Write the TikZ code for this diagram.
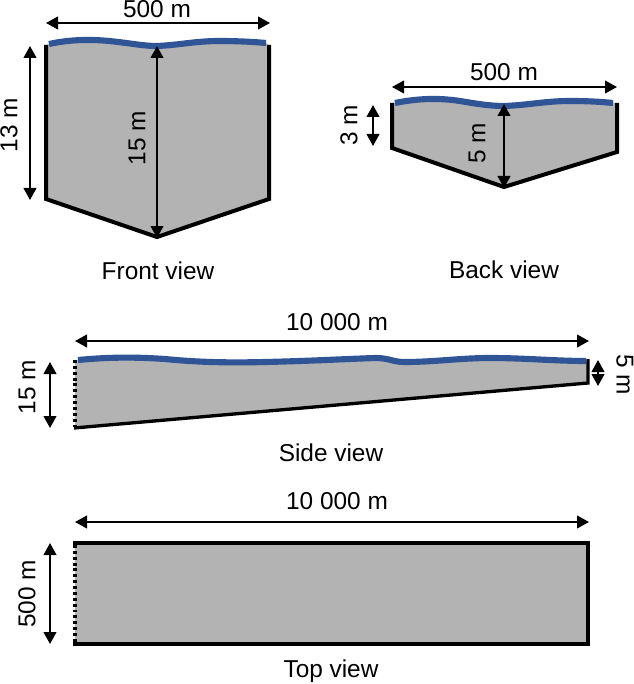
\documentclass[tikz,border=0pt]{standalone}
\usepackage{fontspec}
\setmainfont{Liberation Sans}
\usetikzlibrary{arrows.meta}
\definecolor{wgray}{HTML}{B3B3B3}
\definecolor{wblue}{HTML}{2F5597}
\tikzset{
  bodyfill/.style={fill=wgray,draw=none},
  outline/.style={draw=black,line width=3pt,line join=miter,line cap=butt},
  sideline/.style={draw=black,line width=2.5pt,line join=miter},
  water/.style={draw=wblue,line width=4.6pt,line cap=butt},
  dimline/.style={draw=black,line width=1.5pt,{Triangle[width=9.5pt,length=9pt]}-{Triangle[width=9.5pt,length=9pt]}},
  dimtext/.style={inner sep=0pt,font=\fontsize{18.3pt}{21pt}\selectfont},
  viewcap/.style={dimtext},
  opensec/.style={draw=black,line width=3pt,dash pattern=on 2.2pt off 2.2pt}
}
\newcommand{\frontsurf}{(49,44) .. controls (72,39) and (95,39) .. (118,42) .. controls (135,44) and (145,46) .. (157,46)
  .. controls (180,45) and (195,41) .. (220,41) .. controls (238,41) and (255,42) .. (266,43)}
\newcommand{\backsurf}{(395,103) .. controls (420,98) and (440,98) .. (460,101) .. controls (478,104) and (490,106) .. (504,106)
  .. controls (530,105) and (545,101) .. (570,101) .. controls (590,101) and (603,102) .. (613,103)}
\newcommand{\sidesurf}{(78,360) .. controls (110,357) and (135,357) .. (165,359) .. controls (195,362) and (225,363) .. (265,362)
  .. controls (310,361) and (345,359) .. (375,358) .. controls (390,358) and (392,362) .. (405,362)
  .. controls (435,362) and (460,358) .. (490,358) .. controls (525,358) and (555,361) .. (586,361)}
\begin{document}
\begin{tikzpicture}[x=0.75pt,y=-0.75pt]
\useasboundingbox (0,0) rectangle (634,684);
% ----- front view
\fill[bodyfill] \frontsurf -- (269,45) -- (269,199) -- (157,237) -- (46,199) -- (46,45) -- cycle;
\draw[outline] (46,45) -- (46,199) -- (157,237) -- (269,199) -- (269,45);
\draw[water] \frontsurf;
\coordinate (fa1) at (46,23); \coordinate (fa2) at (270,23);
\coordinate (fb1) at (30,46); \coordinate (fb2) at (30,200);
\coordinate (fc1) at (157,46); \coordinate (fc2) at (157,238);
\draw[dimline] (fa1) -- (fa2);
\draw[dimline] (fb1) -- (fb2);
\draw[dimline] (fc1) -- (fc2);
\node[dimtext] (f500) at (157,9) {500 m};
\node[dimtext,rotate=90] (f13) at (9,125) {13 m};
\node[dimtext,rotate=90] (f15) at (137,138) {15 m};
\node[viewcap] (fcap) at (158,271) {Front view};
% ----- back view
\fill[bodyfill] \backsurf -- (617,103) -- (617,152) -- (504,187) -- (392,148) -- (392,103) -- cycle;
\draw[outline] (392,103) -- (392,148) -- (504,187) -- (617,152) -- (617,103);
\draw[water] \backsurf;
\coordinate (ba1) at (392,87); \coordinate (ba2) at (617,87);
\coordinate (bb1) at (373,105); \coordinate (bb2) at (373,146);
\coordinate (bc1) at (504,104); \coordinate (bc2) at (504,188);
\draw[dimline] (ba1) -- (ba2);
\draw[dimline] (bb1) -- (bb2);
\draw[dimline] (bc1) -- (bc2);
\node[dimtext] (b500) at (504,72) {500 m};
\node[dimtext,rotate=90] (b3) at (349,125) {3 m};
\node[dimtext,rotate=90] (b5) at (477,143) {5 m};
\node[viewcap] (bcap) at (504,270) {Back view};
% ----- side view
\fill[bodyfill] \sidesurf -- (588,360) -- (588,383) -- (75,428) -- (75,360) -- cycle;
\draw[sideline] (588,359) -- (588,383) -- (74,428);
\draw[opensec] (75,360) -- (75,428);
\draw[water] \sidesurf;
\coordinate (sa1) at (75,341); \coordinate (sa2) at (589,341);
\coordinate (sb1) at (50,362); \coordinate (sb2) at (50,428);
\coordinate (sc1) at (598,360); \coordinate (sc2) at (598,386);
\draw[dimline] (sa1) -- (sa2);
\draw[dimline] (sb1) -- (sb2);
\draw[dimline] (sc1) -- (sc2);
\node[dimtext] (s10k) at (337,322) {10 000 m};
\node[dimtext,rotate=90] (s15) at (27,387) {15 m};
\node[dimtext,rotate=-90] (s5) at (625,375) {5 m};
\node[viewcap] (scap) at (331,453) {Side view};
% ----- top view
\fill[bodyfill] (75,543) rectangle (588,644);
\draw[sideline] (73,543) -- (588,543) -- (588,644) -- (73,644);
\draw[opensec] (75,545) -- (75,642);
\coordinate (ta1) at (75,522); \coordinate (ta2) at (589,522);
\coordinate (tb1) at (50,543); \coordinate (tb2) at (50,644);
\draw[dimline] (ta1) -- (ta2);
\draw[dimline] (tb1) -- (tb2);
\node[dimtext] (t10k) at (337,501) {10 000 m};
\node[dimtext,rotate=90] (t500) at (27,594) {500 m};
\node[viewcap] (tcap) at (331,671) {Top view};
\end{tikzpicture}
\end{document}
